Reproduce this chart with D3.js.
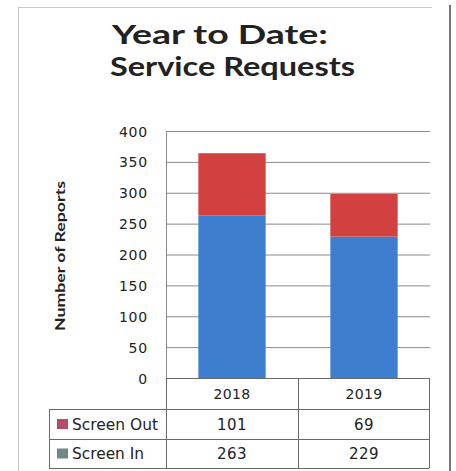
<!DOCTYPE html>
<html>
<head>
<meta charset="utf-8">
<script src="https://cdn.jsdelivr.net/npm/d3@7"></script>
<style>
  html, body { margin: 0; padding: 0; background: #fff; }
  svg { display: block; }
  text { font-family: "DejaVu Sans", sans-serif; fill: #222; }
</style>
</head>
<body>
<svg id="chart" width="456" height="471"></svg>
<script>
// Chart data.
const years     = [ '2018', '2019' ];
const series    = [ 'Screen Out', 'Screen In' ];
const screenIn  = [ 263, 229 ];
const screenOut = [ 101, 69 ];
const yTicks    = [ 0, 50, 100, 150, 200, 250, 300, 350, 400 ];

const svg = d3.select( '#chart' );

// Plot box.
const plot = { left: 166, right: 430, top: 131, bottom: 378 };

const x = d3.scaleBand( )
  .domain( years )
  .range( [ plot.left, plot.right ] )
  .paddingInner( 0.49 )
  .paddingOuter( 0.245 );

const y = d3.scaleLinear( )
  .domain( [ 0, 400 ] )
  .range( [ plot.bottom, plot.top ] );

// Frame round the chart.
svg.append( 'line' ).attr( 'x1', 18 ).attr( 'x2', 432 ).attr( 'y1', 7.5 ).attr( 'y2', 7.5 )
  .attr( 'stroke', '#c8c8c8' );
svg.append( 'line' ).attr( 'x1', 18.5 ).attr( 'x2', 18.5 ).attr( 'y1', 7 ).attr( 'y2', 471 )
  .attr( 'stroke', '#c8c8c8' );
svg.append( 'line' ).attr( 'x1', 450 ).attr( 'x2', 450 ).attr( 'y1', 5 ).attr( 'y2', 471 )
  .attr( 'stroke', '#777' ).attr( 'stroke-width', 2 );

// Title (two lines, stretched like the original).
const titleFont = 'Lato, "Open Sans", sans-serif';
svg.append( 'text' ).attr( 'x', 220 ).attr( 'y', 44 ).attr( 'text-anchor', 'middle' )
  .style( 'font-family', titleFont ).style( 'font-weight', 'bold' )
  .style( 'font-size', '26px' )
  .attr( 'textLength', 216 ).attr( 'lengthAdjust', 'spacingAndGlyphs' )
  .text( 'Year to Date:' );
svg.append( 'text' ).attr( 'x', 232.5 ).attr( 'y', 76 ).attr( 'text-anchor', 'middle' )
  .style( 'font-family', titleFont ).style( 'font-weight', 'bold' )
  .style( 'font-size', '26px' )
  .attr( 'textLength', 245 ).attr( 'lengthAdjust', 'spacingAndGlyphs' )
  .text( 'Service Requests' );

// Gridlines and y axis.
const yAxis = svg.append( 'g' )
  .attr( 'transform', `translate(${plot.left},0)` )
  .call( d3.axisLeft( y ).tickValues( yTicks ).tickSize( -( plot.right - plot.left ) ).tickPadding( 18 ) );
yAxis.select( '.domain' ).attr( 'stroke', '#888' );
yAxis.selectAll( '.tick line' ).attr( 'stroke', '#8a8a8a' );
yAxis.selectAll( '.tick text' ).style( 'font-size', '14px' ).style( 'font-family', '"DejaVu Sans", sans-serif' )
  .style( 'letter-spacing', '0.8px' )
  .attr( 'fill', '#3a3a3a' ).attr( 'dy', '0.36em' );

svg.append( 'text' )
  .attr( 'transform', `translate(65,256) rotate(-90)` )
  .attr( 'text-anchor', 'middle' )
  .style( 'font-family', titleFont ).style( 'font-weight', 'bold' )
  .style( 'font-size', '14px' )
  .attr( 'textLength', 150 ).attr( 'lengthAdjust', 'spacingAndGlyphs' )
  .text( 'Number of Reports' );

// Stacked bars.
const stackData = years.map( ( yr, i ) => ( { year: yr, in: screenIn[i], out: screenOut[i] } ) );
const stacked = d3.stack( ).keys( [ 'in', 'out' ] )( stackData );
const barColor = { in: '#3e7ecf', out: '#d2413f' };

svg.append( 'g' ).selectAll( 'g' )
  .data( stacked )
  .join( 'g' )
    .attr( 'fill', s => barColor[ s.key ] )
  .selectAll( 'rect' )
  .data( s => s )
  .join( 'rect' )
    .attr( 'x', d => x( d.data.year ) )
    .attr( 'width', x.bandwidth( ) )
    .attr( 'y', d => y( d[1] ) )
    .attr( 'height', d => y( d[0] ) - y( d[1] ) );

// Data table under the chart.
const rowTop   = [ 378, 409, 439 ];
const rowBot   = 468;
const tableL   = 49;
const tableCol = [ plot.left, x.step( ) + plot.left, plot.right - 1 ];
const lineCol  = '#6a6a6a';

const table = svg.append( 'g' ).attr( 'stroke', lineCol ).attr( 'stroke-width', 1 );
// Horizontal lines.
table.append( 'line' ).attr( 'x1', plot.left ).attr( 'x2', tableCol[2] ).attr( 'y1', rowTop[0] + 0.5 ).attr( 'y2', rowTop[0] + 0.5 );
[ rowTop[1], rowTop[2], rowBot ].forEach( yy => {
  table.append( 'line' ).attr( 'x1', tableL ).attr( 'x2', tableCol[2] ).attr( 'y1', yy + 0.5 ).attr( 'y2', yy + 0.5 );
} );
// Vertical lines.
table.append( 'line' ).attr( 'x1', tableL + 0.5 ).attr( 'x2', tableL + 0.5 ).attr( 'y1', rowTop[1] ).attr( 'y2', rowBot );
tableCol.forEach( xx => {
  table.append( 'line' ).attr( 'x1', xx + 0.5 ).attr( 'x2', xx + 0.5 ).attr( 'y1', rowTop[0] ).attr( 'y2', rowBot );
} );

// Header row with years.
svg.append( 'g' ).selectAll( 'text' )
  .data( years )
  .join( 'text' )
    .attr( 'x', d => x( d ) + x.bandwidth( ) / 2 )
    .attr( 'y', ( rowTop[0] + rowTop[1] ) / 2 + 5 )
    .attr( 'text-anchor', 'middle' )
    .style( 'font-size', '14px' )
    .style( 'letter-spacing', '0.3px' )
    .text( d => d );

// Series rows.
const rowValues = [ screenOut, screenIn ];
const keyColor  = [ '#b84b68', '#6c8a86' ];
series.forEach( ( name, r ) => {
  const cy = ( rowTop[ r + 1 ] + ( r === 0 ? rowTop[2] : rowBot ) ) / 2;
  svg.append( 'rect' ).attr( 'x', 57 ).attr( 'y', cy - 5 ).attr( 'width', 11 ).attr( 'height', 10 )
    .attr( 'fill', keyColor[r] );
  svg.append( 'text' ).attr( 'x', 72 ).attr( 'y', cy + 5.5 )
    .style( 'font-size', '15px' )
    .attr( 'textLength', r === 0 ? 86 : 72 ).attr( 'lengthAdjust', 'spacingAndGlyphs' )
    .text( name );
  svg.append( 'g' ).selectAll( 'text' )
    .data( years )
    .join( 'text' )
      .attr( 'x', ( d ) => x( d ) + x.bandwidth( ) / 2 )
      .attr( 'y', cy + 5.5 )
      .attr( 'text-anchor', 'middle' )
      .style( 'font-size', '15px' )
      .style( 'letter-spacing', '0.5px' )
      .text( ( d, i ) => rowValues[r][i] );
} );
</script>
</body>
</html>
